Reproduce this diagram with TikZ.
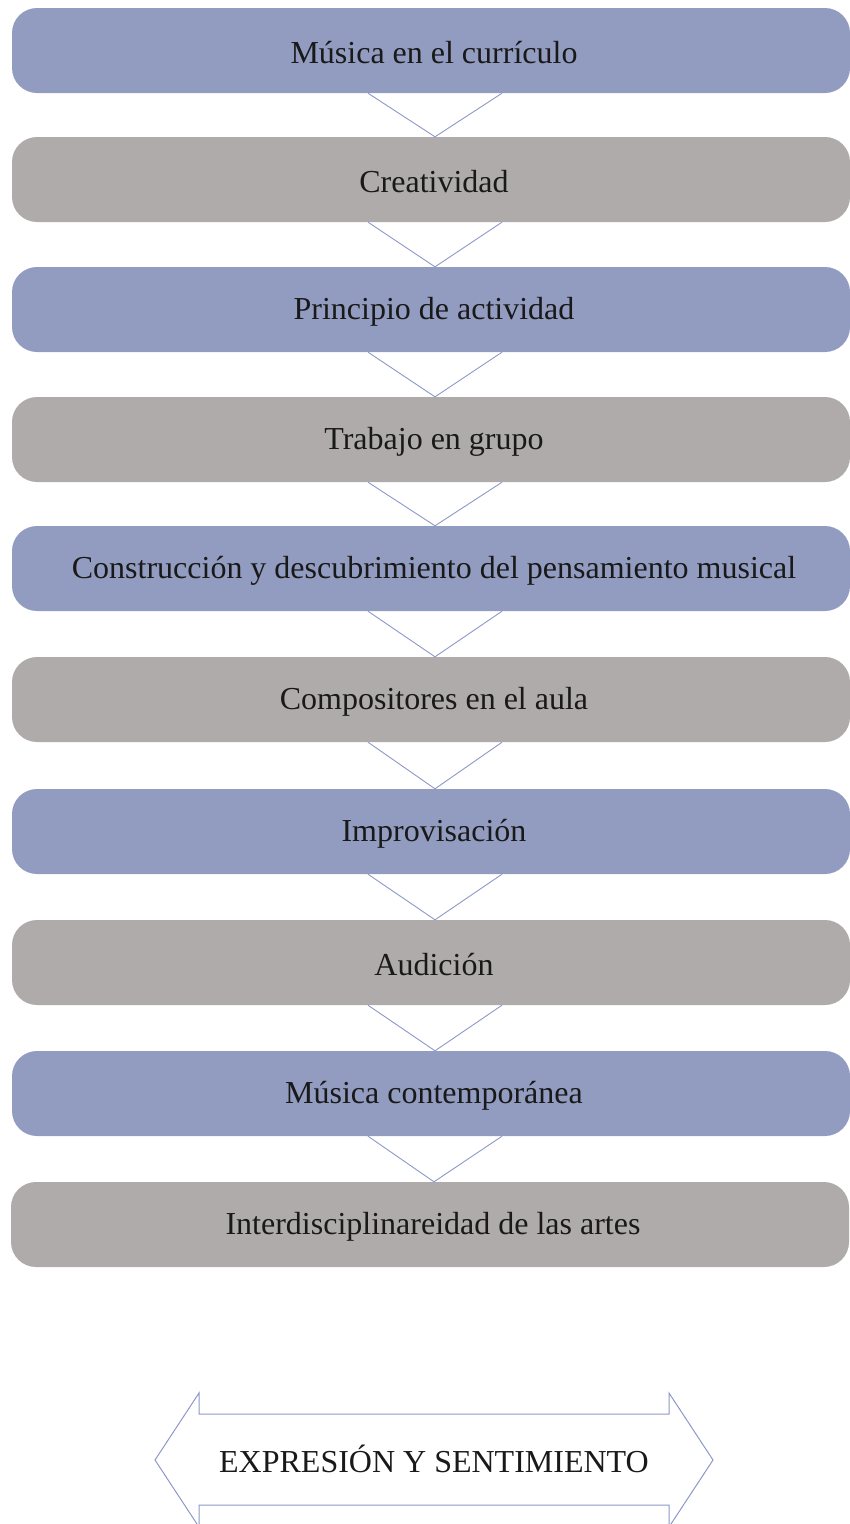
\documentclass[tikz,border=0pt]{standalone}
\usepackage{fontspec}
\setmainfont{Liberation Serif}
\definecolor{stepblue}{RGB}{146,156,192}
\definecolor{stepgrey}{RGB}{176,171,171}
\definecolor{linkblue}{RGB}{140,152,200}
% label set a little right of and below the box centre
\newcommand\steplabel[1]{\hspace*{6pt}\raisebox{-2.5pt}[\height][\depth]{#1}}
\begin{document}
\begin{tikzpicture}[x=1pt,y=-1pt,
  box/.style={rounded corners=25pt, minimum width=838pt, minimum height=85pt,
    inner sep=0pt, font=\fontsize{32}{36}\selectfont, text=black!90},
  bluebox/.style={box, fill=stepblue},
  greybox/.style={box, fill=stepgrey},
  chevron/.style={draw=linkblue, line width=0.9pt},
  outline/.style={draw=linkblue, line width=1pt, line join=miter}]
\useasboundingbox (0,0) rectangle (850,1524);

% stacked steps
\node[bluebox] (b1)  at (431,50.5)   {\steplabel{Música en el currículo}};
\node[greybox] (b2)  at (431,179.5)  {\steplabel{Creatividad}};
\node[bluebox] (b3)  at (431,309.5)  {\steplabel{Principio de actividad}};
\node[greybox] (b4)  at (431,439.5)  {\steplabel{Trabajo en grupo}};
\node[bluebox] (b5)  at (431,568.5)  {\steplabel{Construcción y descubrimiento del pensamiento musical}};
\node[greybox] (b6)  at (431,699.5)  {\steplabel{Compositores en el aula}};
\node[bluebox] (b7)  at (431,831.5)  {\steplabel{Improvisación}};
\node[greybox] (b8)  at (431,962.5)  {\steplabel{Audición}};
\node[bluebox] (b9)  at (431,1093.5) {\steplabel{Música contemporánea}};
\node[greybox] (b10) at (430,1224.5) {\steplabel{Interdisciplinareidad de las artes}};

% open chevrons between consecutive steps
\foreach \a/\b in {b1/b2,b2/b3,b3/b4,b4/b5,b5/b6,b6/b7,b7/b8,b8/b9,b9/b10}{
  \draw[chevron] ([xshift=-63pt]\a.south) -- ([xshift=4pt]\b.north) -- ([xshift=71pt]\a.south);
}

% double-headed arrow at the bottom
\node[font=\fontsize{32}{36}\selectfont, text=black!90] (expr) at (434,1459) {EXPRESIÓN Y SENTIMIENTO};
\draw[outline] ([shift={(-279,1)}]expr.center) -- ([shift={(-235,-66)}]expr.center)
  -- ([shift={(-235,-45)}]expr.center) -- ([shift={(235,-45)}]expr.center)
  -- ([shift={(235,-66)}]expr.center) -- ([shift={(279,1)}]expr.center)
  -- ([shift={(235,68)}]expr.center) -- ([shift={(235,46)}]expr.center)
  -- ([shift={(-235,46)}]expr.center) -- ([shift={(-235,68)}]expr.center) -- cycle;
\end{tikzpicture}
\end{document}
